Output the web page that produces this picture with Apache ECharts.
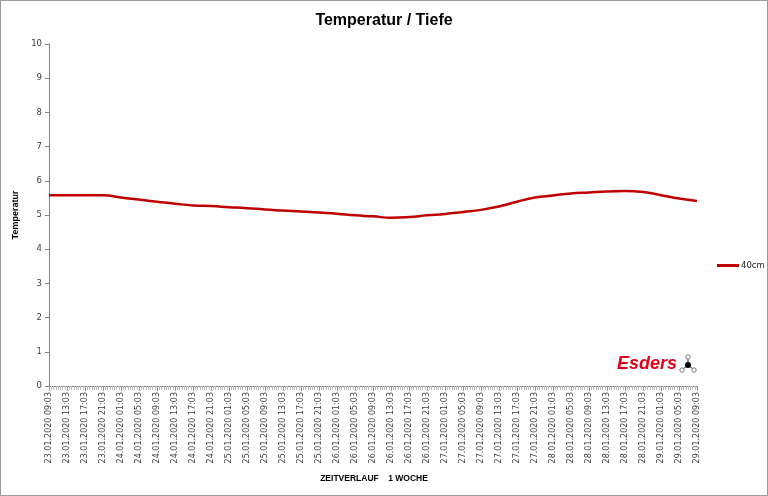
<!DOCTYPE html>
<html>
<head>
<meta charset="utf-8">
<script src="https://cdn.jsdelivr.net/npm/echarts@6/dist/echarts.min.js"></script>
<style>
html,body{margin:0;padding:0;background:#fff;}
#c{width:766px;height:494px;border:1px solid #9a9a9a;}
</style>
</head>
<body>
<div id="c"></div>
<script>
const categories = [
 "23.01.2020 09:03","23.01.2020 13:03","23.01.2020 17:03","23.01.2020 21:03",
 "24.01.2020 01:03","24.01.2020 05:03","24.01.2020 09:03","24.01.2020 13:03","24.01.2020 17:03","24.01.2020 21:03",
 "25.01.2020 01:03","25.01.2020 05:03","25.01.2020 09:03","25.01.2020 13:03","25.01.2020 17:03","25.01.2020 21:03",
 "26.01.2020 01:03","26.01.2020 05:03","26.01.2020 09:03","26.01.2020 13:03","26.01.2020 17:03","26.01.2020 21:03",
 "27.01.2020 01:03","27.01.2020 05:03","27.01.2020 09:03","27.01.2020 13:03","27.01.2020 17:03","27.01.2020 21:03",
 "28.01.2020 01:03","28.01.2020 05:03","28.01.2020 09:03","28.01.2020 13:03","28.01.2020 17:03","28.01.2020 21:03",
 "29.01.2020 01:03","29.01.2020 05:03","29.01.2020 09:03"
];
const temp40cm = [
 5.58,5.58,5.58,5.58,
 5.51,5.45,5.39,5.33,5.28,5.26,
 5.23,5.20,5.16,5.13,5.10,5.07,
 5.04,4.99,4.96,4.92,4.94,4.99,
 5.03,5.09,5.15,5.25,5.39,5.51,
 5.57,5.63,5.66,5.69,5.70,5.67,
 5.58,5.48,5.41
];
const seriesName = "40cm";
const yTicks = {min:0, max:10, interval:1};

const chart = echarts.init(document.getElementById('c'), null, {renderer:'canvas'});
const axisGray = '#868686';
const textCol = '#404040';
chart.setOption({
  animation:false,
  backgroundColor:'#fff',
  grid:{left:48,right:70,top:43,bottom:109,containLabel:false},
  xAxis:[{
    type:'category',
    data:categories,
    boundaryGap:false,
    axisLine:{lineStyle:{color:axisGray,width:1}},
    axisTick:{show:true,length:5,interval:0,lineStyle:{color:'#999'}},
    axisLabel:{rotate:90,interval:0,fontFamily:'DejaVu Sans',fontSize:8,color:textCol,margin:6}
  },{
    type:'value',
    min:0,max:categories.length-1,interval:1,
    show:true,
    position:'bottom',
    axisLine:{show:false},
    axisLabel:{show:false},
    splitLine:{show:false},
    axisTick:{show:false},
    minorTick:{show:true,splitNumber:8,length:4,lineStyle:{color:'#bdbdbd'}}
  }],
  yAxis:{
    type:'value',
    min:yTicks.min,max:yTicks.max,interval:yTicks.interval,
    axisLine:{show:true,lineStyle:{color:axisGray}},
    axisTick:{show:true,length:4,lineStyle:{color:axisGray}},
    splitLine:{show:false},
    axisLabel:{fontFamily:'DejaVu Sans',fontSize:8.5,color:textCol,margin:7}
  },
  legend:{
    left:711,top:255,
    data:[seriesName],
    icon:'rect',itemWidth:22,itemHeight:3,itemGap:4,
    textStyle:{fontFamily:'DejaVu Sans',fontSize:8.5,color:'#222',padding:[0,0,0,-3]}
  },
  series:[{
    name:seriesName,type:'line',xAxisIndex:0,
    data:temp40cm,smooth:0.5,symbol:'none',
    lineStyle:{color:'#c00000',width:2.5},
    itemStyle:{color:'#c00000'}
  }],
  graphic:[
    {type:'text',left:'center',top:12,style:{text:'Temperatur / Tiefe',font:'bold 16px "Liberation Sans"',fill:'#000'}},
    {type:'text',x:15,y:214,rotation:Math.PI/2,style:{text:'Temperatur',font:'bold 9px "Liberation Sans"',fill:'#000',align:'center',verticalAlign:'middle'}},
    {type:'text',x:373,y:478,style:{text:'ZEITVERLAUF    1 WOCHE',font:'bold 8.5px "Liberation Sans"',fill:'#000',align:'center',verticalAlign:'middle'}},
    {type:'text',x:616,y:354,style:{text:'Esders',font:'italic bold 18px "Liberation Sans"',fill:'#e2001a'}},
    {type:'group',x:687,y:364,children:[
      {type:'line',shape:{x1:0,y1:0,x2:0,y2:-7},style:{stroke:'#333',lineWidth:1}},
      {type:'line',shape:{x1:0,y1:0,x2:-5,y2:4},style:{stroke:'#333',lineWidth:1}},
      {type:'line',shape:{x1:0,y1:0,x2:5,y2:4},style:{stroke:'#333',lineWidth:1}},
      {type:'circle',shape:{cx:0,cy:-8,r:2.2},style:{fill:'#fff',stroke:'#555',lineWidth:0.8}},
      {type:'circle',shape:{cx:-6,cy:5,r:2.2},style:{fill:'#fff',stroke:'#555',lineWidth:0.8}},
      {type:'circle',shape:{cx:6,cy:5,r:2.2},style:{fill:'#fff',stroke:'#555',lineWidth:0.8}},
      {type:'circle',shape:{cx:0,cy:0,r:3},style:{fill:'#000'}}
    ]}
  ]
});
</script>
</body>
</html>
